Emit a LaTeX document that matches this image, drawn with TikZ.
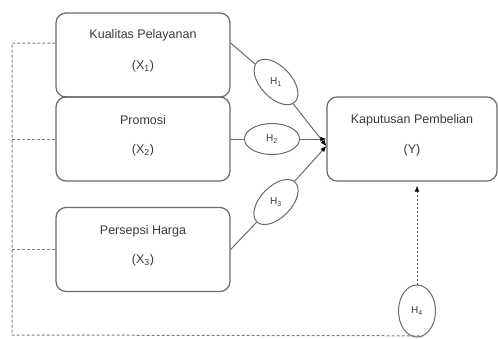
\documentclass[tikz,border=0pt]{standalone}
\usepackage{fontspec}
\setmainfont{Liberation Sans}
\usetikzlibrary{shapes.geometric,arrows.meta}
\definecolor{edge}{HTML}{6A6A6A}
\definecolor{txt}{HTML}{3A3A3A}
\begin{document}
\begin{tikzpicture}[x=1pt,y=-1pt,
 box/.style={draw=edge,line width=1.2pt,rounded corners=10pt,minimum width=174pt,minimum height=84pt,inner sep=0pt},
 lab/.style={text=txt,font=\fontsize{12.5}{14}\selectfont,inner sep=0pt},
 hyp/.style={draw=edge,line width=1pt,ellipse,minimum width=55pt,minimum height=31pt,inner sep=0pt},
 hlab/.style={text=txt,font=\fontsize{10}{12}\selectfont,inner sep=0pt},
 plain/.style={draw=edge,line width=1pt},
 link/.style={draw=edge,line width=1pt,-{Latex[length=6pt,width=5pt,black]}},
 outer/.style={draw=edge!85,line width=1pt,dash pattern=on 3pt off 2pt},
 dotlink/.style={draw=black!70,line width=1pt,dash pattern=on 2pt off 2pt,-{Latex[length=6pt,width=5pt,black]}},
]
\useasboundingbox (0,0) rectangle (498,338);

% boxes
\node[box] (b1) at (143,55) {};
\node[box] (b2) at (143,139) {};
\node[box] (b3) at (143,249.5) {};
\node[box,minimum width=170pt] (by) at (412,139) {};

\node[lab] (b1a) at (143,35) {Kualitas Pelayanan};
\node[lab] (b1b) at (143,66) {(X\textsubscript{1})};
\node[lab] (b2a) at (143,120) {Promosi};
\node[lab] (b2b) at (143,150) {(X\textsubscript{2})};
\node[lab] (b3a) at (143,231) {Persepsi Harga};
\node[lab] (b3b) at (143,260) {(X\textsubscript{3})};
\node[lab] (bya) at (412,120) {Kaputusan Pembelian};
\node[lab] (byb) at (412,150) {(Y)};

% hypotheses
\node[hyp,rotate=-47] (h1) at (276,82) {};
\node[hlab] (h1t) at (276,82) {H\textsubscript{1}};
\node[hyp] (h2) at (272,139) {};
\node[hlab] (h2t) at (272,139) {H\textsubscript{2}};
\node[hyp,rotate=46] (h3) at (276,202) {};
\node[hlab] (h3t) at (276,202) {H\textsubscript{3}};
\node[hyp,minimum width=52pt,minimum height=37pt,rotate=90] (h4) at (417,311) {};
\node[hlab] (h4t) at (417,311) {H\textsubscript{4}};

\coordinate (tip) at ([yshift=-7pt]by.west);
\coordinate (tl) at (12,43);
\coordinate (bl) at (12,335);

% connectors
\draw[plain] ([yshift=12pt]b1.east) -- (h1);
\draw[link] (h1) -- (tip);
\draw[plain] (b2.east) -- (h2);
\draw[link] (h2) -- (by.west);
\draw[plain] (b3.east) -- (h3);
\draw[link] (h3) -- (tip);

\draw[outer] ([yshift=12pt]b1.west) -- (tl) -- (bl) -- (h4.195);
\draw[outer] (b2.west) -- (b2.west -| tl);
\draw[outer] (b3.west) -- (b3.west -| tl);
\draw[dotlink,shorten >=4pt] (h4) -- (h4 |- by.south);
\end{tikzpicture}
\end{document}
